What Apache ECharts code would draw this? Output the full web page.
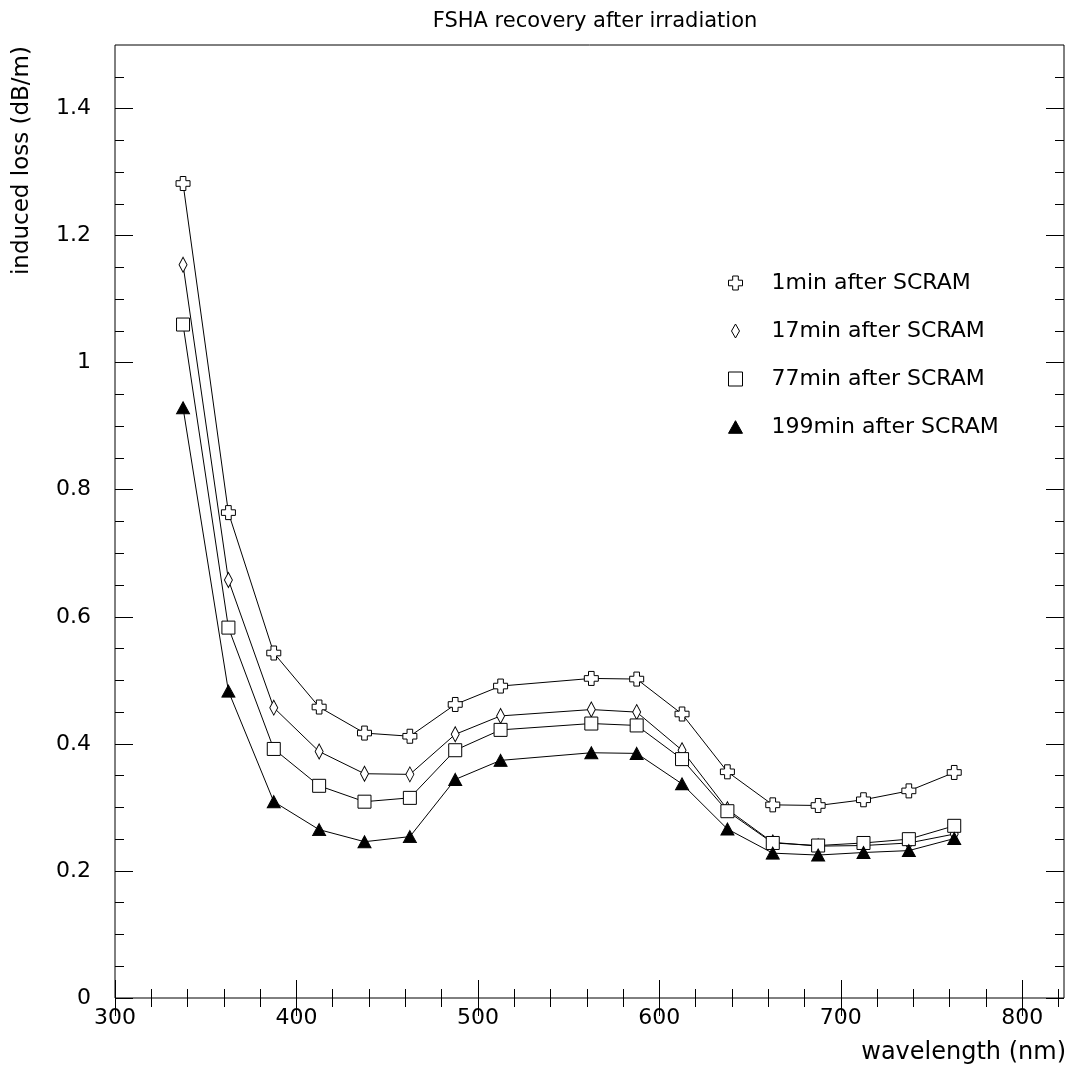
<!DOCTYPE html>
<html>
<head>
<meta charset="utf-8">
<script src="https://cdn.jsdelivr.net/npm/echarts@6/dist/echarts.min.js"></script>
<style>
html,body{margin:0;padding:0;background:#fff;}
#chart{width:1068px;height:1070px;}
</style>
</head>
<body>
<div id="chart"></div>
<script>
// ---- data ----
const wavelengths = [337.5, 362.5, 387.5, 412.5, 437.5, 462.5, 487.5, 512.5, 562.5, 587.5, 612.5, 637.5, 662.5, 687.5, 712.5, 737.5, 762.5];
const loss1min   = [1.282, 0.764, 0.543, 0.458, 0.417, 0.412, 0.462, 0.491, 0.503, 0.502, 0.447, 0.356, 0.304, 0.303, 0.312, 0.326, 0.355];
const loss17min  = [1.154, 0.658, 0.457, 0.388, 0.353, 0.352, 0.415, 0.444, 0.454, 0.450, 0.390, 0.297, 0.245, 0.239, 0.240, 0.244, 0.258];
const loss77min  = [1.060, 0.583, 0.392, 0.334, 0.309, 0.315, 0.390, 0.422, 0.432, 0.429, 0.376, 0.294, 0.244, 0.240, 0.244, 0.250, 0.271];
const loss199min = [0.929, 0.483, 0.309, 0.265, 0.246, 0.254, 0.344, 0.374, 0.386, 0.385, 0.337, 0.266, 0.228, 0.225, 0.229, 0.232, 0.251];
const seriesNames = ['1min after SCRAM', '17min after SCRAM', '77min after SCRAM', '199min after SCRAM'];
// tick labels / tick positions
const xMajorTicks = [300, 400, 500, 600, 700, 800];
const xMinorTicks = [300, 320, 340, 360, 380, 400, 420, 440, 460, 480, 500, 520, 540, 560, 580, 600, 620, 640, 660, 680, 700, 720, 740, 760, 780, 800, 820];
const yMajorTicks = [0, 0.2, 0.4, 0.6, 0.8, 1, 1.2, 1.4];
const yMinorTicks = [0, 0.05, 0.1, 0.15, 0.2, 0.25, 0.3, 0.35, 0.4, 0.45, 0.5, 0.55, 0.6, 0.65, 0.7, 0.75, 0.8, 0.85, 0.9, 0.95, 1, 1.05, 1.1, 1.15, 1.2, 1.25, 1.3, 1.35, 1.4, 1.45];
const titleText = 'FSHA recovery after irradiation';
const xTitle = 'wavelength (nm)';
const yTitle = 'induced loss (dB/m)';

const FONT = 'DejaVu Sans';
const X_MIN = 300, X_MAX = 823, Y_MIN = 0, Y_MAX = 1.5;

const SYM_PLUS = 'path://M3,0H7V3H10V7H7V10H3V7H0V3H3Z';
const SYM_DIAMOND = 'path://M4,0L8,7L4,14L0,7Z';
const SYM_SQUARE = 'path://M0,0H10V10H0Z';
const SYM_TRIANGLE = 'path://M5,0L10,9L0,9Z';

const symbols = [
  {icon: SYM_PLUS, size: [14, 14], fill: '#fff'},
  {icon: SYM_DIAMOND, size: [8, 15], fill: '#fff'},
  {icon: SYM_SQUARE, size: [13, 13], fill: '#fff'},
  {icon: SYM_TRIANGLE, size: [13, 12], fill: '#000'}
];
const values = [loss1min, loss17min, loss77min, loss199min];

function pairs(ys) { return wavelengths.map((x, i) => [x, ys[i]]); }

function xAxisDef(pos, ticks, len, labels) {
  return {
    type: 'value', min: X_MIN, max: X_MAX, position: pos,
    axisLine: {show: false},
    axisTick: {show: true, inside: true, length: len, customValues: ticks, lineStyle: {color: '#000', width: 1}},
    axisLabel: labels ? {show: true, customValues: ticks, color: '#000', fontSize: 22, fontFamily: FONT, margin: 9} : {show: false},
    splitLine: {show: false}
  };
}
function yAxisDef(pos, ticks, len, labels) {
  return {
    type: 'value', min: Y_MIN, max: Y_MAX, position: pos,
    axisLine: {show: false},
    axisTick: {show: true, inside: true, length: len, customValues: ticks, lineStyle: {color: '#000', width: 1}},
    axisLabel: labels ? {show: true, customValues: ticks, color: '#000', fontSize: 22, fontFamily: FONT, margin: 24} : {show: false},
    splitLine: {show: false}
  };
}

const chart = echarts.init(document.getElementById('chart'), null, {renderer: 'canvas'});
chart.setOption({
  backgroundColor: '#fff',
  animation: false,
  title: {
    text: titleText, left: 590, textAlign: 'center', top: 6,
    textStyle: {fontSize: 21, fontWeight: 'normal', color: '#000', fontFamily: FONT}
  },
  grid: {left: 115, top: 45, right: 4, bottom: 72, show: true, borderColor: '#000', borderWidth: 1, backgroundColor: 'transparent'},
  xAxis: [
    xAxisDef('bottom', xMajorTicks, 18, true),
    xAxisDef('bottom', xMinorTicks, 9, false),
    xAxisDef('top', xMajorTicks, 18, false),
    xAxisDef('top', xMinorTicks, 9, false)
  ],
  yAxis: [
    yAxisDef('left', yMajorTicks, 18, true),
    yAxisDef('left', yMinorTicks, 9, false),
    yAxisDef('right', yMajorTicks, 18, false),
    yAxisDef('right', yMinorTicks, 9, false)
  ],
  legend: {
    orient: 'vertical', left: 728, top: 272, padding: 0,
    itemWidth: 14, itemHeight: 14, itemGap: 26,
    textStyle: {fontSize: 22, color: '#000', fontFamily: FONT, padding: [0, 0, 0, 24]},
    data: seriesNames.map((n, i) => ({
      name: n, icon: symbols[i].icon,
      itemStyle: {color: symbols[i].fill, borderColor: '#000', borderWidth: 1}
    }))
  },
  graphic: [
    {type: 'text', x: 1066, y: 1053, style: {text: xTitle, align: 'right', verticalAlign: 'middle', fontSize: 24, fontFamily: FONT, fill: '#000'}},
    {type: 'text', x: 22, y: 46, rotation: Math.PI / 2, style: {text: yTitle, align: 'right', verticalAlign: 'middle', fontSize: 23, fontFamily: FONT, fill: '#000'}}
  ],
  series: seriesNames.map((n, i) => ({
    name: n, type: 'line', xAxisIndex: 0, yAxisIndex: 0,
    data: pairs(values[i]),
    symbol: symbols[i].icon, symbolSize: symbols[i].size, showAllSymbol: true,
    lineStyle: {color: '#000', width: 1},
    itemStyle: {color: symbols[i].fill, borderColor: '#000', borderWidth: 1},
    emphasis: {disabled: true},
    z: 2 + i
  }))
});
</script>
</body>
</html>
